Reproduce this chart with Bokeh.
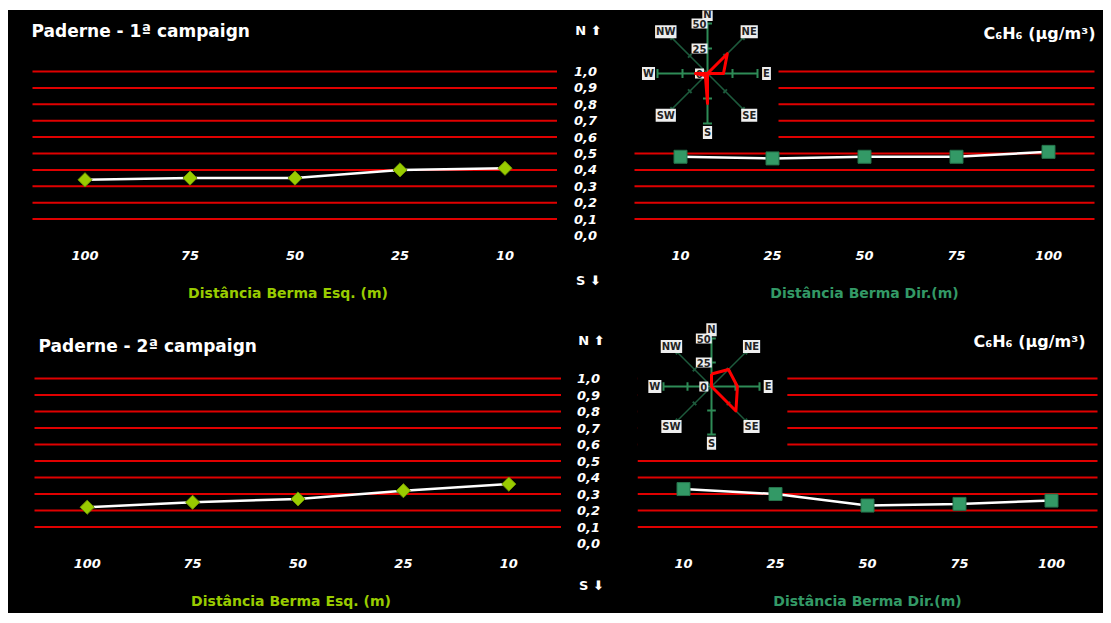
import numpy as np
from bokeh.plotting import figure
from bokeh.layouts import row, column
from bokeh.models import Range1d
from bokeh.core.properties import value
from bokeh.embed import file_html
from bokeh.resources import INLINE

# ---------------- data ----------------
dist_esq = ["100", "75", "50", "25", "10"]
dist_dir = ["10", "25", "50", "75", "100"]
camp1_esq = [0.34, 0.35, 0.35, 0.40, 0.41]
camp1_dir = [0.48, 0.47, 0.48, 0.48, 0.51]
camp2_esq = [0.22, 0.25, 0.27, 0.32, 0.36]
camp2_dir = [0.33, 0.30, 0.23, 0.24, 0.26]

grid_levels = [0.1, 0.2, 0.3, 0.4, 0.5, 0.6, 0.7, 0.8, 0.9, 1.0]
y_ticks = [0.0, 0.1, 0.2, 0.3, 0.4, 0.5, 0.6, 0.7, 0.8, 0.9, 1.0]
y_tick_labels = ["0,0", "0,1", "0,2", "0,3", "0,4", "0,5", "0,6", "0,7", "0,8", "0,9", "1,0"]

wind_dirs = ["N", "NE", "E", "SE", "S", "SW", "W", "NW"]
wind_angles_deg = [0, 45, 90, 135, 180, 225, 270, 315]
wind_camp1 = [0, 28, 16, 0, 30, 3, 12, 0]
wind_camp2 = [13, 25, 27, 36, 0, 0, 0, 0]
wind_scale = [0, 25, 50]
wind_scale_labels = ["0", "25", "50"]

titles = ["Paderne - 1ª campaign", "Paderne - 2ª campaign"]
unit_label = "C₆H₆ (μg/m³)"
xlabel_esq = "Distância Berma Esq. (m)"
xlabel_dir = "Distância Berma Dir.(m)"
north_label = "N ⬆"
south_label = "S ⬇"

# ---------------- style ----------------
FONT = value("DejaVu Sans")
BG = "black"
RED = "#e00000"
ESQ_COLOR = "#99cc00"
DIR_COLOR = "#339966"
BLACK_STYLE = {"background-color": "black"}


class Map:
    """pixel <-> data helpers for one figure (layout only)"""
    def __init__(self, frx0, step, zero_px, one_px):
        self.frx0, self.step = frx0, step
        self.zero, self.unit = zero_px, zero_px - one_px

    def x(self, px):
        return (px - self.frx0) / self.step - 0.5

    def y(self, py):
        return (self.zero - py) / self.unit


def base_fig(fx0, fx1, fy0, fy1, xr, yr):
    p = figure(width=fx1 - fx0, height=fy1 - fy0, x_range=xr, y_range=yr,
               output_backend="svg", toolbar_location=None, title=None,
               x_axis_location=None, y_axis_location=None,
               min_border_left=0, min_border_right=0,
               min_border_top=0, min_border_bottom=0,
               background_fill_color=BG, border_fill_color=BG,
               styles=BLACK_STYLE)
    p.outline_line_color = None
    p.grid.visible = False
    return p


def txt(p, x, y, t, size, color="white", style="bold", align="center", **kw):
    p.text(x=x, y=y, text=t, text_color=color, text_font=FONT,
           text_font_style=style, text_font_size=size, text_align=align,
           text_baseline="middle", **kw)


def data_panel(fx0, fx1, fy0, fy1, frx0, step, zero_px, one_px,
               cats, vals, marker_kw, xlabel, xlabel_color, tick_py, label_py, label_dx):
    m = Map(frx0, step, zero_px, one_px)
    n = len(cats)
    p = base_fig(fx0, fx1, fy0, fy1, Range1d(m.x(fx0), m.x(fx1)), Range1d(m.y(fy1), m.y(fy0)))
    p.segment(x0=[-0.5] * len(grid_levels), x1=[n - 0.5] * len(grid_levels),
              y0=grid_levels, y1=grid_levels, line_color=RED, line_width=2)
    xs = list(range(n))
    p.line(xs, vals, line_color="white", line_width=2.5)
    p.scatter(xs, vals, **marker_kw)
    txt(p, xs, [m.y(tick_py)] * n, cats, "13px", style="bold italic")
    txt(p, [(n - 1) / 2 + label_dx / step], [m.y(label_py)], [xlabel], "14px", color=xlabel_color)
    return p, m


def center_col(fx0, fx1, fy0, fy1, zero_px, one_px, n_py, s_py, label_px):
    unit = zero_px - one_px
    p = base_fig(fx0, fx1, fy0, fy1, Range1d(fx0, fx1),
                 Range1d((zero_px - fy1) / unit, (zero_px - fy0) / unit))
    txt(p, [label_px] * len(y_ticks), y_ticks, y_tick_labels, "13px", style="bold italic")
    txt(p, [label_px + 3] * 2, [(zero_px - n_py) / unit, (zero_px - s_py) / unit],
        [north_label, south_label], "13px")
    return p


def wind_rose(p, fx0, fx1, fy0, fy1, cx, cy, k, vals, box):
    p.extra_x_ranges = {"rx": Range1d((fx0 - cx) / k, (fx1 - cx) / k)}
    p.extra_y_ranges = {"ry": Range1d((cy - fy1) / k, (cy - fy0) / k)}
    rk = dict(x_range_name="rx", y_range_name="ry")
    bl, br, bb, bt = box
    p.quad(left=[bl], right=[br], bottom=[bb], top=[bt], fill_color=BG,
           line_color=None, **rk)

    th = np.radians(wind_angles_deg)
    rmax = wind_scale[-1]
    card = [i for i, a in enumerate(wind_angles_deg) if a % 90 == 0]
    diag = [i for i, a in enumerate(wind_angles_deg) if a % 90 != 0]
    p.segment(x0=[0] * len(diag), y0=[0] * len(diag),
              x1=[rmax * np.sin(th[i]) for i in diag],
              y1=[rmax * np.cos(th[i]) for i in diag],
              line_color="#1d5a3c", line_width=1.5, **rk)
    p.segment(x0=[0] * len(card), y0=[0] * len(card),
              x1=[rmax * np.sin(th[i]) for i in card],
              y1=[rmax * np.cos(th[i]) for i in card],
              line_color="#2e8b57", line_width=2, **rk)
    tx0, ty0, tx1, ty1, tcol = [], [], [], [], []
    for i, t in enumerate(th):
        h = 4.5 if i in card else 2.5
        for r in wind_scale[1:]:
            mx, my = r * np.sin(t), r * np.cos(t)
            px, py = np.cos(t) * h, -np.sin(t) * h
            tx0.append(mx - px); ty0.append(my - py)
            tx1.append(mx + px); ty1.append(my + py)
            tcol.append("#2e8b57" if i in card else "#1d5a3c")
    p.segment(x0=tx0, y0=ty0, x1=tx1, y1=ty1, line_color=tcol, line_width=2, **rk)

    lab_style = dict(text_color="#222222", text_font=FONT, text_font_style="bold",
                     text_font_size="10px", text_align="center", text_baseline="middle",
                     background_fill_color="#eeeeee", padding=1, **rk)
    lr = 59
    p.text(x=[lr * np.sin(t) for t in th], y=[lr * np.cos(t) for t in th],
           text=wind_dirs, **lab_style)
    p.text(x=[-8] * len(wind_scale), y=wind_scale, text=wind_scale_labels, **lab_style)

    xs = [v * np.sin(t) for v, t in zip(vals, th)]
    ys = [v * np.cos(t) for v, t in zip(vals, th)]
    xs.append(xs[0]); ys.append(ys[0])
    p.line(xs, ys, line_color="#ff0000", line_width=3, line_join="round", **rk)


diamond_kw = dict(marker="square", angle=np.pi / 4, size=10,
                  fill_color=ESQ_COLOR, line_color="#6f9400", line_width=1)
square_kw = dict(marker="square", size=13, fill_color=DIR_COLOR,
                 line_color="#25734b", line_width=1)

# ---------------- top row (1ª campaign) ----------------
TZ, TO = 235, 71
TY0, TY1 = 10, 310
tl, mtl = data_panel(8, 557, TY0, TY1, 32, 105, TZ, TO, dist_esq, camp1_esq,
                     diamond_kw, xlabel_esq, ESQ_COLOR, 255, 292, -7)
txt(tl, [mtl.x(31)], [mtl.y(30)], [titles[0]], "17px", align="left")
tm = center_col(557, 633, TY0, TY1, TZ, TO, 30, 280, 585)
tr, mtr = data_panel(633, 1103, TY0, TY1, 634, 92, TZ, TO, dist_dir, camp1_dir,
                     square_kw, xlabel_dir, DIR_COLOR, 255, 292, 0)
wind_rose(tr, 633, 1103, TY0, TY1, 707, 73, 1.0, wind_camp1, (-80, 71, -72, 70))
txt(tr, [mtr.x(1095)], [mtr.y(33)], [unit_label], "16px", align="right")

# ---------------- bottom row (2ª campaign) ----------------
BZ, BO = 543, 378
BY0, BY1 = 310, 613
bl, mbl = data_panel(8, 561, BY0, BY1, 34, 105.4, BZ, BO, dist_esq, camp2_esq,
                     diamond_kw, xlabel_esq, ESQ_COLOR, 563, 600, -7)
txt(bl, [mbl.x(38)], [mbl.y(345)], [titles[1]], "17px", align="left")
bm = center_col(561, 637, BY0, BY1, BZ, BO, 340, 585, 588)
br, mbr = data_panel(637, 1103, BY0, BY1, 637, 92, BZ, BO, dist_dir, camp2_dir,
                     square_kw, xlabel_dir, DIR_COLOR, 563, 600, 0)
wind_rose(br, 637, 1103, BY0, BY1, 711, 386, 0.96, wind_camp2, (-80, 79, -72, 76))
txt(br, [mbr.x(1085)], [mbr.y(341)], [unit_label], "16px", align="right")

top_row = row(tl, tm, tr, styles=BLACK_STYLE)
bottom_row = row(bl, bm, br, styles=BLACK_STYLE)
layout = column(top_row, bottom_row, margin=(10, 0, 0, 8), styles=BLACK_STYLE)
open("out.html", "w").write(file_html(layout, INLINE))
